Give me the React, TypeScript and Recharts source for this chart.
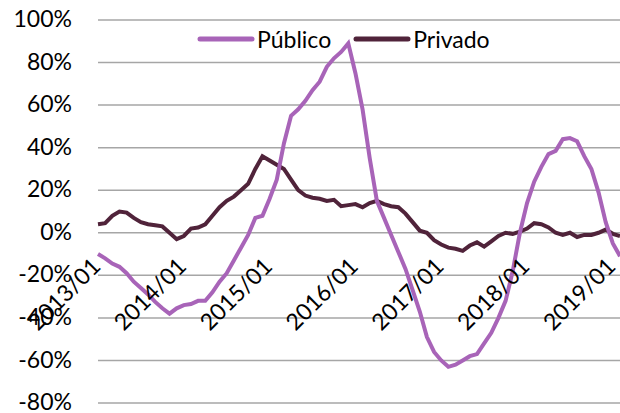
import React from 'react';
import { LineChart, Line, XAxis, YAxis, CartesianGrid } from 'recharts';

const W = 620;
const H = 413;
const TOP = 20;
const BOTTOM = 10;
const FONT = 'Lato, "Liberation Sans", sans-serif';
const FONT_SIZE = 23;

const PUBLICO_COLOR = '#a864b8';
const PRIVADO_COLOR = '#50233a';

// 2013/01 .. 2019/02, monthly
const months: string[] = [];
for (let y = 2013; y <= 2019; y++) {
  for (let m = 1; m <= 12; m++) {
    if (y === 2019 && m > 2) break;
    months.push(`${y}/${String(m).padStart(2, '0')}`);
  }
}

const publico = [
  -10, -12, -14.5, -16, -19, -23, -26, -29, -32.5, -35.5, -38, -35.5,
  -34, -33.5, -32, -32, -28, -23, -19, -13, -7, -1, 7, 8,
  16, 25, 42, 55, 58, 62, 67, 71, 78, 82, 85, 89,
  75, 58, 35, 15, 7, -1, -9, -17, -27, -37, -49, -56,
  -60, -63, -62, -60, -58, -57, -52, -47, -40, -32, -18, 0,
  14, 24, 31, 37, 38.5, 44, 44.5, 43, 36, 30, 19, 5,
  -5, -11,
];

const privado = [
  4, 4.5, 8, 10, 9.5, 7, 5, 4, 3.5, 3, 0, -3,
  -1.5, 2, 2.5, 4, 8, 12, 15, 17, 20, 23, 30, 36,
  34, 32, 30, 25, 20, 17.5, 16.5, 16, 15, 15.5, 12.5, 13,
  13.5, 12, 14, 15, 13.5, 12.5, 12, 9, 5, 1, 0, -3.5,
  -5.5, -7, -7.5, -8.5, -6, -4.5, -6.5, -4, -1.5, 0, -0.5, 0.5,
  2, 4.5, 4, 2.5, 0, -1, 0, -2, -1, -1, 0, 1.5,
  -0.5, -1.5,
];

const yTicks = [-80, -60, -40, -20, 0, 20, 40, 60, 80, 100];
const Y_MIN = -80;
const Y_MAX = 100;

const series = [
  { key: 'publico', label: 'Público', color: PUBLICO_COLOR },
  { key: 'privado', label: 'Privado', color: PRIVADO_COLOR },
];

const data = months.map((month, i) => ({
  month,
  publico: publico[i],
  privado: privado[i],
}));

const plotHeight = H - TOP - BOTTOM;
const ZERO_Y = TOP + (plotHeight * Y_MAX) / (Y_MAX - Y_MIN);

const XTick = (props: any) => {
  const { x, payload } = props;
  const ax = x + 4;
  const ay = ZERO_Y + 35;
  return (
    <text
      x={ax}
      y={ay}
      transform={`rotate(-45, ${ax}, ${ay})`}
      textAnchor="end"
      fontSize={FONT_SIZE}
      fontFamily={FONT}
      fill="#000"
    >
      {payload.value}
    </text>
  );
};

const LegendBox = () => (
  <div
    style={{
      position: 'absolute',
      top: 25,
      left: 197,
      display: 'flex',
      alignItems: 'center',
      fontFamily: FONT,
      fontSize: FONT_SIZE,
      lineHeight: '28px',
    }}
  >
    {series.map((it, i) => (
      <div key={it.key} style={{ display: 'flex', alignItems: 'center', marginLeft: i ? 22 : 0 }}>
        <svg width={58} height={10} style={{ marginRight: 2 }}>
          <line x1={3} y1={5} x2={55} y2={5} stroke={it.color} strokeWidth={5} strokeLinecap="round" />
        </svg>
        <span style={{ color: '#000' }}>{it.label}</span>
      </div>
    ))}
  </div>
);

export default function App() {
  return (
    <div style={{ position: 'absolute', left: 0, top: 0, width: W, height: H, background: '#fff' }}>
      <LineChart width={W} height={H} data={data} margin={{ top: TOP, right: 0, bottom: BOTTOM - 1, left: 0 }}>
        <CartesianGrid vertical={false} stroke="#a6a6a6" strokeWidth={1.5} />
        <XAxis
          dataKey="month"
          interval={11}
          height={1}
          axisLine={false}
          tickLine={false}
          tick={<XTick />}
        />
        <YAxis
          domain={[Y_MIN, Y_MAX]}
          ticks={yTicks}
          interval={0}
          width={98}
          axisLine={false}
          tickLine={false}
          tickSize={0}
          tickMargin={26}
          tickFormatter={(v: number) => `${v}%`}
          tick={{ fill: '#000', fontSize: FONT_SIZE, fontFamily: FONT, dy: -1 }}
        />
        <Line
          dataKey="privado"
          name="Privado"
          stroke={PRIVADO_COLOR}
          strokeWidth={4}
          dot={false}
          type="linear"
          isAnimationActive={false}
        />
        <Line
          dataKey="publico"
          name="Público"
          stroke={PUBLICO_COLOR}
          strokeWidth={4}
          dot={false}
          type="linear"
          isAnimationActive={false}
        />
      </LineChart>
      <LegendBox />
    </div>
  );
}
